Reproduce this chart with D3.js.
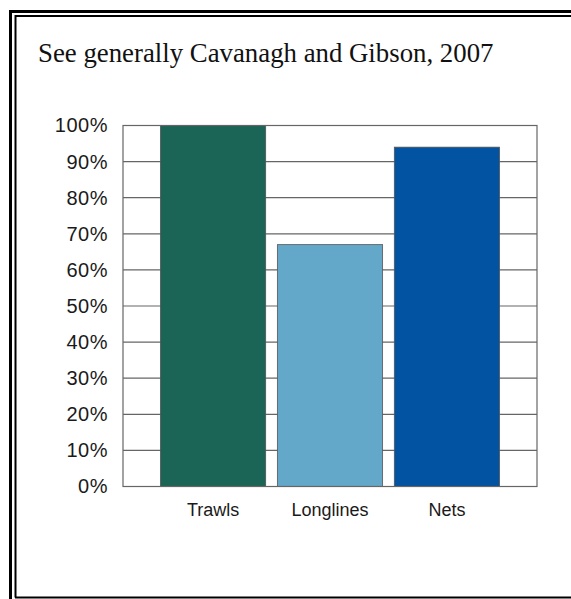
<!DOCTYPE html>
<html>
<head>
<meta charset="utf-8">
<script src="https://cdn.jsdelivr.net/npm/d3@7"></script>
<style>
  html, body { margin: 0; padding: 0; background: #fff; }
  svg { display: block; }
</style>
</head>
<body>
<script>
// data
const categories = ['Trawls', 'Longlines', 'Nets'];
const values = [100, 67, 94];
const barColors = ['#1b6556', '#63a7c9', '#0253a1'];
const yTicks = [0, 10, 20, 30, 40, 50, 60, 70, 80, 90, 100];
const title = 'See generally Cavanagh and Gibson, 2007';

const W = 571, H = 599;
const plot = { left: 123, right: 537, top: 125.5, bottom: 486.5 };

const svg = d3.select('body').append('svg')
    .attr('width', W)
    .attr('height', H);

// double frame round the box (right and bottom run off the picture)
svg.append('path')
    .attr('d', `M10.5,${H + 5} V11.5 H${W + 5}`)
    .attr('fill', 'none').attr('stroke', '#000').attr('stroke-width', 3);
svg.append('path')
    .attr('d', `M15.5,597.5 V16 H${W + 5} M15,597.5 H${W + 5}`)
    .attr('fill', 'none').attr('stroke', '#000').attr('stroke-width', 2);

svg.append('text')
    .attr('x', 38)
    .attr('y', 62)
    .attr('font-family', '"Liberation Serif", "Times New Roman", serif')
    .attr('font-size', 26.8)
    .attr('fill', '#111')
    .text(title);

const x = d3.scaleBand()
    .domain(categories)
    .range([plot.left, plot.right])
    .paddingInner(0.1)
    .paddingOuter(0.32);

const y = d3.scaleLinear()
    .domain([0, 100])
    .range([plot.bottom, plot.top]);

// grid lines
svg.append('g')
    .selectAll('line')
    .data(yTicks)
    .join('line')
    .attr('x1', plot.left).attr('x2', plot.right)
    .attr('y1', d => y(d)).attr('y2', d => y(d))
    .attr('stroke', '#666').attr('stroke-width', 1.2);

// bars
svg.append('g')
    .selectAll('rect')
    .data(values)
    .join('rect')
    .attr('x', (d, i) => x(categories[i]))
    .attr('y', d => y(d))
    .attr('width', x.bandwidth())
    .attr('height', d => y(0) - y(d))
    .attr('fill', (d, i) => barColors[i])
    .attr('stroke', '#555')
    .attr('stroke-width', 0.8);

// plot frame
svg.append('rect')
    .attr('x', plot.left).attr('y', plot.top)
    .attr('width', plot.right - plot.left)
    .attr('height', plot.bottom - plot.top)
    .attr('fill', 'none')
    .attr('stroke', '#666').attr('stroke-width', 1.2);

// y axis labels
const yAxis = d3.axisLeft(y)
    .tickValues(yTicks)
    .tickFormat(d => d + '%')
    .tickSize(0)
    .tickPadding(15);

svg.append('g')
    .attr('transform', `translate(${plot.left},0)`)
    .call(yAxis)
    .call(g => g.select('.domain').remove())
    .call(g => g.selectAll('text')
        .attr('font-family', '"Liberation Sans", Arial, Helvetica, sans-serif')
        .attr('font-size', 20)
        .attr('letter-spacing', 0.5)
        .attr('fill', '#1a1a1a'));

// category labels
const xAxis = d3.axisBottom(x).tickSize(0).tickPadding(17);

svg.append('g')
    .attr('transform', `translate(0,${plot.bottom})`)
    .call(xAxis)
    .call(g => g.select('.domain').remove())
    .call(g => g.selectAll('text')
        .attr('font-family', '"Liberation Sans", Arial, Helvetica, sans-serif')
        .attr('font-size', 18)
        .attr('fill', '#1a1a1a'));
</script>
</body>
</html>
